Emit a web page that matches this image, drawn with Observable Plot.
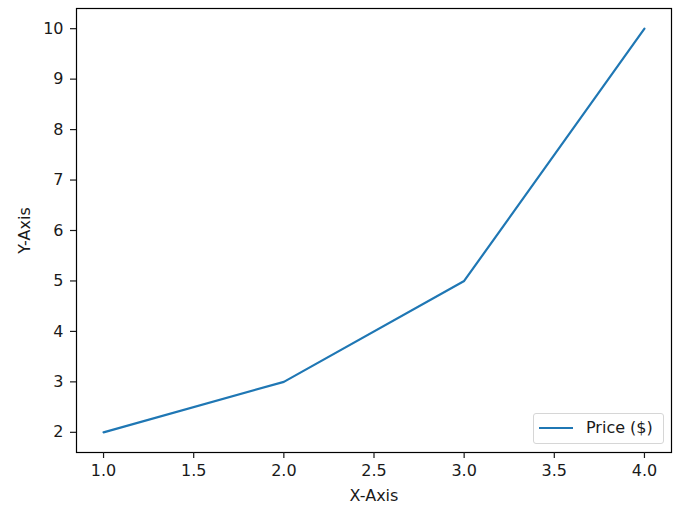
<!DOCTYPE html>
<html><head><meta charset="utf-8">
<script src="https://cdn.jsdelivr.net/npm/d3@7"></script>
<script src="https://cdn.jsdelivr.net/npm/@observablehq/plot@0.6"></script>
<style>
body{margin:0;background:#fff;font-family:"DejaVu Sans",sans-serif;}
#wrap{position:relative;width:681px;height:505px;}
#legend{position:absolute;left:533px;top:413px;width:129px;height:29px;border:1px solid #d6d6d6;border-radius:3px;background:rgba(255,255,255,0.8);font-size:16px;color:#1a1a1a;}
#legend svg{position:absolute;left:5px;top:9px;}
#legend span{position:absolute;left:52px;top:4px;white-space:nowrap;}
</style></head>
<body><div id="wrap"></div>
<script>
const xValues = [1, 2, 3, 4];
const priceValues = [2, 3, 5, 10];
const seriesName = "Price ($)";
const xTicks = [1.0, 1.5, 2.0, 2.5, 3.0, 3.5, 4.0];
const yTicks = [2, 3, 4, 5, 6, 7, 8, 9, 10];

const data = xValues.map((x, i) => ({x, y: priceValues[i]}));
const color = "#1f77b4";

const chart = Plot.plot({
  width: 681, height: 505,
  marginLeft: 76, marginRight: 10, marginTop: 8, marginBottom: 53,
  style: {fontFamily: "DejaVu Sans, sans-serif", fontSize: "16px", color: "#1a1a1a", background: "#fff"},
  x: {domain: [0.85, 4.15]},
  y: {domain: [1.6, 10.4]},
  marks: [
    Plot.line(data, {x: "x", y: "y", stroke: color, strokeWidth: 2.2}),
    Plot.frame({stroke: "#000", strokeWidth: 1.2}),
    Plot.axisX({ticks: xTicks, tickFormat: d3.format(".1f"), tickSize: 6, tickPadding: 6, strokeWidth: 1.2, label: "X-Axis", labelAnchor: "center", labelArrow: "none", labelOffset: 48}),
    Plot.axisY({ticks: yTicks, tickFormat: d3.format("d"), tickSize: 6, tickPadding: 7, strokeWidth: 1.2, label: "Y-Axis", labelAnchor: "center", labelArrow: "none", labelOffset: 58})
  ]
});
const wrap = document.getElementById("wrap");
wrap.appendChild(chart);
const lg = document.createElement("div");
lg.id = "legend";
lg.innerHTML = `<svg width="40" height="10"><line x1="0" x2="34" y1="5" y2="5" stroke="${color}" stroke-width="2.2"/></svg><span>${seriesName}</span>`;
wrap.appendChild(lg);
</script></body></html>
